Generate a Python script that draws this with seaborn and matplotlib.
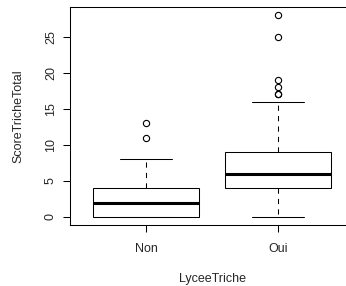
import matplotlib
matplotlib.use("Agg")
import matplotlib.pyplot as plt
import pandas as pd
import seaborn as sns

# raw scores per group, read so that the box statistics match the picture
non_scores = [0, 0, 0, 0, 0, 0, 1, 1, 1, 2, 2, 3, 3, 4, 4, 4, 5, 6, 8, 11, 13]
oui_scores = [0, 1, 2, 2, 3, 3, 3, 3, 4, 4, 4, 4, 5, 5, 5, 5, 5, 6, 6, 6, 6,
              6, 7, 7, 7, 7, 8, 8, 8, 9, 9, 10, 12, 14, 16, 17, 17, 18, 19, 25, 28]
groups = ["Non", "Oui"]
y_ticks = [0, 5, 10, 15, 20, 25]

df = pd.DataFrame({
    "LyceeTriche": ["Non"] * len(non_scores) + ["Oui"] * len(oui_scores),
    "ScoreTricheTotal": non_scores + oui_scores,
})

sns.set_style("white")
plt.rcParams["font.family"] = ["Liberation Sans", "DejaVu Sans"]

fig = plt.figure(figsize=(3.46, 2.86), dpi=100)
ax = fig.add_axes([69.5 / 346, 1 - 225 / 286, 285 / 346, 218 / 286])

sns.boxplot(data=df, x="LyceeTriche", y="ScoreTricheTotal", order=groups,
            color="white", linecolor="black", linewidth=0.75, width=0.8,
            whis=1.5, ax=ax,
            medianprops=dict(linewidth=2.2, color="black"),
            whiskerprops=dict(linestyle=(0, (5, 5))),
            flierprops=dict(marker="o", markerfacecolor="none",
                            markeredgecolor="black", markersize=4.5,
                            markeredgewidth=0.8))

ax.set_xlim(-0.58, 1.58)
ax.set_ylim(-1.12, 29.12)
ax.set_yticks(y_ticks)
ax.set_yticklabels([str(t) for t in y_ticks], rotation=90, va="center")
ax.tick_params(axis="both", direction="out", length=5, width=0.75,
               labelsize=9, color="black", left=True, bottom=True, pad=4)
ax.tick_params(axis="x", pad=8)
for s in ax.spines.values():
    s.set_color("black")
    s.set_linewidth(0.75)

ax.set_xlabel("LyceeTriche", fontsize=9, va="center")
ax.set_ylabel("ScoreTricheTotal", fontsize=9, va="center")
ax.xaxis.set_label_coords(0.5, (225 - 279) / 218)
ax.yaxis.set_label_coords((18 - 69.5) / 285, 0.5)

fig.savefig("out.png", dpi=100)
